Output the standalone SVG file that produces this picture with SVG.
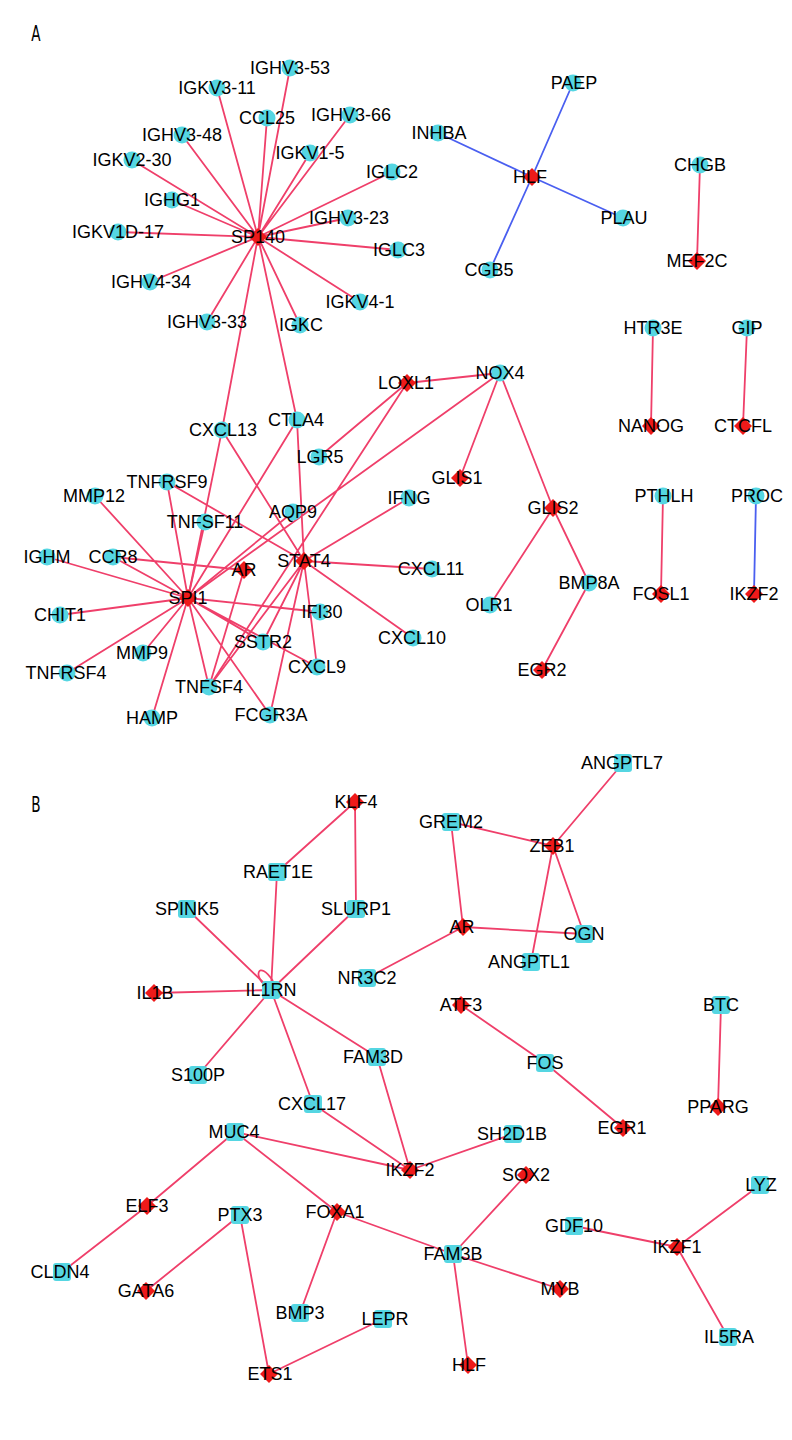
<svg xmlns="http://www.w3.org/2000/svg" xmlns:xlink="http://www.w3.org/1999/xlink" width="792" height="1440" viewBox="0 0 792 1440">
<style>
.e{stroke:#ef3f6a;stroke-width:1.8;fill:none}
.eb{stroke:#4a5ff0;stroke-width:1.8;fill:none}
.c{fill:#55d6e2}
.d{fill:#ee1a1a}
text{font-family:"Liberation Sans",Arial,sans-serif;font-size:18px;fill:#000;text-anchor:middle}
.p{font-family:"DejaVu Sans Condensed","DejaVu Sans",sans-serif;font-size:21px}
</style>
<defs>
<circle id="ci" r="8.5"/>
<path id="di" d="M0,-9 L9,0 L0,9 L-9,0Z"/>
<rect id="sq" x="-9" y="-9" width="18" height="18" rx="3"/>
</defs>
<rect width="792" height="1440" fill="#fff"/>
<text class="p" x="36" y="41" transform="translate(36 0) scale(0.72 1) translate(-36 0)">A</text>
<text class="p" x="36" y="812" transform="translate(36 0) scale(0.72 1) translate(-36 0)">B</text>
<g id="connectors">
<path class="e" d="M258 237L290 68M258 237L217 88M258 237L267 118M258 237L350 115M258 237L182 135M258 237L310 153M258 237L132 160M258 237L392 172M258 237L172 200M258 237L348 218M258 237L118 232M258 237L398 250M258 237L150 282M258 237L360 302M258 237L207 322M258 237L300 325M258 237L222 430M258 237L297 420"/>
<path class="eb" d="M532 177L573 83M532 177L438 133M532 177L623 218M532 177L490 270M756 496L754 594"/>
<path class="e" d="M700 165L697 261M653 328L651 426M747 328L743 426M663 496L661 594"/>
<path class="e" d="M222 430L188 598M222 430L304 561M297 420L304 561M297 420L188 598M407 383L319 457M407 383L209 687M407 383L500 373M500 373L188 598M500 373L460 478M500 373L553 508M553 508L490 605M553 508L589 583M589 583L542 670"/>
<path class="e" d="M167 482L188 598M167 482L304 561M95 496L188 598M205 522L188 598M293 512L188 598M47 557L188 598M113 557L188 598M113 557L244 570M60 615L188 598M320 612L188 598M263 642L188 598M317 667L188 598M143 653L188 598M67 673L188 598M209 687L188 598M152 718L188 598M270 715L188 598M244 570L209 687M304 561L209 687M304 561L263 642M304 561L317 667M304 561L270 715M304 561L409 498M304 561L432 569M304 561L413 638"/>
<path class="e" d="M355 802L277 872M355 802L356 909M271 990L277 872M271 990L187 909M271 990L356 909M271 990L154 993M271 990L198 1075M271 990L377 1057M271 990L313 1104M377 1057L410 1170M313 1104L410 1170M235 1132L410 1170M235 1132L147 1206M235 1132L337 1212M410 1170L513 1134M147 1206L62 1272M240 1215L146 1291M240 1215L269 1374M337 1212L300 1313M337 1212L453 1254M383 1319L269 1374M453 1254L526 1175M453 1254L560 1289M453 1254L468 1365"/>
<path class="e" d="M268 987C252 978 258 958 273 981"/>
<path class="e" d="M451 822L553 846M451 822L463 927M553 846L623 763M553 846L531 962M553 846L584 934M463 927L584 934M463 927L367 978M461 1005L545 1063M545 1063L623 1128M721 1005L718 1107M574 1226L677 1247M760 1185L677 1247M728 1337L677 1247"/>
</g>
<g id="a-IGHV3-53"><use href="#ci" class="c" x="290" y="68"/><text x="290" y="74">IGHV3-53</text></g>
<g id="a-IGKV3-11"><use href="#ci" class="c" x="217" y="88"/><text x="217" y="94">IGKV3-11</text></g>
<g id="a-CCL25"><use href="#ci" class="c" x="267" y="118"/><text x="267" y="124">CCL25</text></g>
<g id="a-IGHV3-66"><use href="#ci" class="c" x="350" y="115"/><text x="351" y="121">IGHV3-66</text></g>
<g id="a-IGHV3-48"><use href="#ci" class="c" x="182" y="135"/><text x="182" y="141">IGHV3-48</text></g>
<g id="a-IGKV1-5"><use href="#ci" class="c" x="310" y="153"/><text x="310" y="159">IGKV1-5</text></g>
<g id="a-IGKV2-30"><use href="#ci" class="c" x="132" y="160"/><text x="132" y="166">IGKV2-30</text></g>
<g id="a-IGLC2"><use href="#ci" class="c" x="392" y="172"/><text x="392" y="178">IGLC2</text></g>
<g id="a-IGHG1"><use href="#ci" class="c" x="172" y="200"/><text x="172" y="206">IGHG1</text></g>
<g id="a-IGHV3-23"><use href="#ci" class="c" x="348" y="218"/><text x="349" y="224">IGHV3-23</text></g>
<g id="a-IGKV1D-17"><use href="#ci" class="c" x="118" y="232"/><text x="118" y="238">IGKV1D-17</text></g>
<g id="a-IGLC3"><use href="#ci" class="c" x="398" y="250"/><text x="399" y="256">IGLC3</text></g>
<g id="a-IGHV4-34"><use href="#ci" class="c" x="150" y="282"/><text x="151" y="288">IGHV4-34</text></g>
<g id="a-IGKV4-1"><use href="#ci" class="c" x="360" y="302"/><text x="360" y="308">IGKV4-1</text></g>
<g id="a-IGHV3-33"><use href="#ci" class="c" x="207" y="322"/><text x="207" y="328">IGHV3-33</text></g>
<g id="a-IGKC"><use href="#ci" class="c" x="300" y="325"/><text x="301" y="331">IGKC</text></g>
<g id="a-SP140"><use href="#di" class="d" x="258" y="237"/><text x="258" y="243">SP140</text></g>
<g id="a-PAEP"><use href="#ci" class="c" x="573" y="83"/><text x="574" y="89">PAEP</text></g>
<g id="a-INHBA"><use href="#ci" class="c" x="438" y="133"/><text x="439" y="139">INHBA</text></g>
<g id="a-PLAU"><use href="#ci" class="c" x="623" y="218"/><text x="624" y="224">PLAU</text></g>
<g id="a-CGB5"><use href="#ci" class="c" x="490" y="270"/><text x="489" y="276">CGB5</text></g>
<g id="a-HLF"><use href="#di" class="d" x="532" y="177"/><text x="530" y="183">HLF</text></g>
<g id="a-CHGB"><use href="#ci" class="c" x="700" y="165"/><text x="700" y="171">CHGB</text></g>
<g id="a-MEF2C"><use href="#di" class="d" x="697" y="261"/><text x="697" y="267">MEF2C</text></g>
<g id="a-HTR3E"><use href="#ci" class="c" x="653" y="328"/><text x="653" y="334">HTR3E</text></g>
<g id="a-GIP"><use href="#ci" class="c" x="747" y="328"/><text x="747" y="334">GIP</text></g>
<g id="a-NANOG"><use href="#di" class="d" x="651" y="426"/><text x="651" y="432">NANOG</text></g>
<g id="a-CTCFL"><use href="#di" class="d" x="743" y="426"/><text x="743" y="432">CTCFL</text></g>
<g id="a-PTHLH"><use href="#ci" class="c" x="663" y="496"/><text x="664" y="502">PTHLH</text></g>
<g id="a-PROC"><use href="#ci" class="c" x="756" y="496"/><text x="757" y="502">PROC</text></g>
<g id="a-FOSL1"><use href="#di" class="d" x="661" y="594"/><text x="661" y="600">FOSL1</text></g>
<g id="a-IKZF2"><use href="#di" class="d" x="754" y="594"/><text x="754" y="600">IKZF2</text></g>
<g id="a-CXCL13"><use href="#ci" class="c" x="222" y="430"/><text x="223" y="436">CXCL13</text></g>
<g id="a-CTLA4"><use href="#ci" class="c" x="297" y="420"/><text x="296" y="426">CTLA4</text></g>
<g id="a-LGR5"><use href="#ci" class="c" x="319" y="457"/><text x="320" y="463">LGR5</text></g>
<g id="a-TNFRSF9"><use href="#ci" class="c" x="167" y="482"/><text x="167" y="488">TNFRSF9</text></g>
<g id="a-MMP12"><use href="#ci" class="c" x="95" y="496"/><text x="94" y="502">MMP12</text></g>
<g id="a-TNFSF11"><use href="#ci" class="c" x="205" y="522"/><text x="205" y="528">TNFSF11</text></g>
<g id="a-AQP9"><use href="#ci" class="c" x="293" y="512"/><text x="293" y="518">AQP9</text></g>
<g id="a-IGHM"><use href="#ci" class="c" x="47" y="557"/><text x="47" y="563">IGHM</text></g>
<g id="a-CCR8"><use href="#ci" class="c" x="113" y="557"/><text x="113" y="563">CCR8</text></g>
<g id="a-CHIT1"><use href="#ci" class="c" x="60" y="615"/><text x="60" y="621">CHIT1</text></g>
<g id="a-IFI30"><use href="#ci" class="c" x="320" y="612"/><text x="322" y="618">IFI30</text></g>
<g id="a-SSTR2"><use href="#ci" class="c" x="263" y="642"/><text x="263" y="648">SSTR2</text></g>
<g id="a-MMP9"><use href="#ci" class="c" x="143" y="653"/><text x="142" y="659">MMP9</text></g>
<g id="a-TNFRSF4"><use href="#ci" class="c" x="67" y="673"/><text x="66" y="679">TNFRSF4</text></g>
<g id="a-CXCL9"><use href="#ci" class="c" x="317" y="667"/><text x="317" y="673">CXCL9</text></g>
<g id="a-TNFSF4"><use href="#ci" class="c" x="209" y="687"/><text x="209" y="693">TNFSF4</text></g>
<g id="a-HAMP"><use href="#ci" class="c" x="152" y="718"/><text x="152" y="724">HAMP</text></g>
<g id="a-FCGR3A"><use href="#ci" class="c" x="270" y="715"/><text x="271" y="721">FCGR3A</text></g>
<g id="a-AR"><use href="#di" class="d" x="244" y="570"/><text x="244" y="576">AR</text></g>
<g id="a-STAT4"><use href="#di" class="d" x="304" y="561"/><text x="304" y="567">STAT4</text></g>
<g id="a-SPI1"><use href="#di" class="d" x="188" y="598"/><text x="188" y="604">SPI1</text></g>
<g id="a-NOX4"><use href="#ci" class="c" x="500" y="373"/><text x="500" y="379">NOX4</text></g>
<g id="a-LOXL1"><use href="#di" class="d" x="407" y="383"/><text x="406" y="389">LOXL1</text></g>
<g id="a-GLIS1"><use href="#di" class="d" x="460" y="478"/><text x="457" y="484">GLIS1</text></g>
<g id="a-IFNG"><use href="#ci" class="c" x="409" y="498"/><text x="409" y="504">IFNG</text></g>
<g id="a-GLIS2"><use href="#di" class="d" x="553" y="508"/><text x="553" y="514">GLIS2</text></g>
<g id="a-CXCL11"><use href="#ci" class="c" x="432" y="569"/><text x="431" y="575">CXCL11</text></g>
<g id="a-OLR1"><use href="#ci" class="c" x="490" y="605"/><text x="489" y="611">OLR1</text></g>
<g id="a-BMP8A"><use href="#ci" class="c" x="589" y="583"/><text x="589" y="589">BMP8A</text></g>
<g id="a-CXCL10"><use href="#ci" class="c" x="413" y="638"/><text x="412" y="644">CXCL10</text></g>
<g id="a-EGR2"><use href="#di" class="d" x="542" y="670"/><text x="542" y="676">EGR2</text></g>
<g id="b-KLF4"><use href="#di" class="d" x="355" y="802"/><text x="356" y="808">KLF4</text></g>
<g id="b-RAET1E"><use href="#sq" class="c" x="277" y="872"/><text x="278" y="878">RAET1E</text></g>
<g id="b-SPINK5"><use href="#sq" class="c" x="187" y="909"/><text x="187" y="915">SPINK5</text></g>
<g id="b-SLURP1"><use href="#sq" class="c" x="356" y="909"/><text x="356" y="915">SLURP1</text></g>
<g id="b-IL1RN"><use href="#sq" class="c" x="271" y="990"/><text x="271" y="996">IL1RN</text></g>
<g id="b-IL1B"><use href="#di" class="d" x="154" y="993"/><text x="155" y="999">IL1B</text></g>
<g id="b-NR3C2"><use href="#sq" class="c" x="367" y="978"/><text x="367" y="984">NR3C2</text></g>
<g id="b-FAM3D"><use href="#sq" class="c" x="377" y="1057"/><text x="373" y="1063">FAM3D</text></g>
<g id="b-S100P"><use href="#sq" class="c" x="198" y="1075"/><text x="198" y="1081">S100P</text></g>
<g id="b-ANGPTL7"><use href="#sq" class="c" x="623" y="763"/><text x="622" y="769">ANGPTL7</text></g>
<g id="b-GREM2"><use href="#sq" class="c" x="451" y="822"/><text x="451" y="828">GREM2</text></g>
<g id="b-ZEB1"><use href="#di" class="d" x="553" y="846"/><text x="552" y="852">ZEB1</text></g>
<g id="b-AR"><use href="#di" class="d" x="463" y="927"/><text x="462" y="933">AR</text></g>
<g id="b-OGN"><use href="#sq" class="c" x="584" y="934"/><text x="584" y="940">OGN</text></g>
<g id="b-ANGPTL1"><use href="#sq" class="c" x="531" y="962"/><text x="529" y="968">ANGPTL1</text></g>
<g id="b-ATF3"><use href="#di" class="d" x="461" y="1005"/><text x="461" y="1011">ATF3</text></g>
<g id="b-BTC"><use href="#sq" class="c" x="721" y="1005"/><text x="721" y="1011">BTC</text></g>
<g id="b-FOS"><use href="#sq" class="c" x="545" y="1063"/><text x="545" y="1069">FOS</text></g>
<g id="b-CXCL17"><use href="#sq" class="c" x="313" y="1104"/><text x="312" y="1110">CXCL17</text></g>
<g id="b-MUC4"><use href="#sq" class="c" x="235" y="1132"/><text x="234" y="1138">MUC4</text></g>
<g id="b-ELF3"><use href="#di" class="d" x="147" y="1206"/><text x="147" y="1212">ELF3</text></g>
<g id="b-PTX3"><use href="#sq" class="c" x="240" y="1215"/><text x="240" y="1221">PTX3</text></g>
<g id="b-FOXA1"><use href="#di" class="d" x="337" y="1212"/><text x="335" y="1218">FOXA1</text></g>
<g id="b-CLDN4"><use href="#sq" class="c" x="62" y="1272"/><text x="60" y="1278">CLDN4</text></g>
<g id="b-GATA6"><use href="#di" class="d" x="146" y="1291"/><text x="146" y="1297">GATA6</text></g>
<g id="b-BMP3"><use href="#sq" class="c" x="300" y="1313"/><text x="300" y="1319">BMP3</text></g>
<g id="b-LEPR"><use href="#sq" class="c" x="383" y="1319"/><text x="385" y="1325">LEPR</text></g>
<g id="b-ETS1"><use href="#di" class="d" x="269" y="1374"/><text x="270" y="1380">ETS1</text></g>
<g id="b-PPARG"><use href="#di" class="d" x="718" y="1107"/><text x="718" y="1113">PPARG</text></g>
<g id="b-EGR1"><use href="#di" class="d" x="623" y="1128"/><text x="622" y="1134">EGR1</text></g>
<g id="b-SH2D1B"><use href="#sq" class="c" x="513" y="1134"/><text x="512" y="1140">SH2D1B</text></g>
<g id="b-IKZF2"><use href="#di" class="d" x="410" y="1170"/><text x="410" y="1176">IKZF2</text></g>
<g id="b-SOX2"><use href="#di" class="d" x="526" y="1175"/><text x="526" y="1181">SOX2</text></g>
<g id="b-LYZ"><use href="#sq" class="c" x="760" y="1185"/><text x="761" y="1191">LYZ</text></g>
<g id="b-GDF10"><use href="#sq" class="c" x="574" y="1226"/><text x="574" y="1232">GDF10</text></g>
<g id="b-IKZF1"><use href="#di" class="d" x="677" y="1247"/><text x="677" y="1253">IKZF1</text></g>
<g id="b-FAM3B"><use href="#sq" class="c" x="453" y="1254"/><text x="453" y="1260">FAM3B</text></g>
<g id="b-MYB"><use href="#di" class="d" x="560" y="1289"/><text x="560" y="1295">MYB</text></g>
<g id="b-IL5RA"><use href="#sq" class="c" x="728" y="1337"/><text x="729" y="1343">IL5RA</text></g>
<g id="b-HLF"><use href="#di" class="d" x="468" y="1365"/><text x="469" y="1371">HLF</text></g>
</svg>
